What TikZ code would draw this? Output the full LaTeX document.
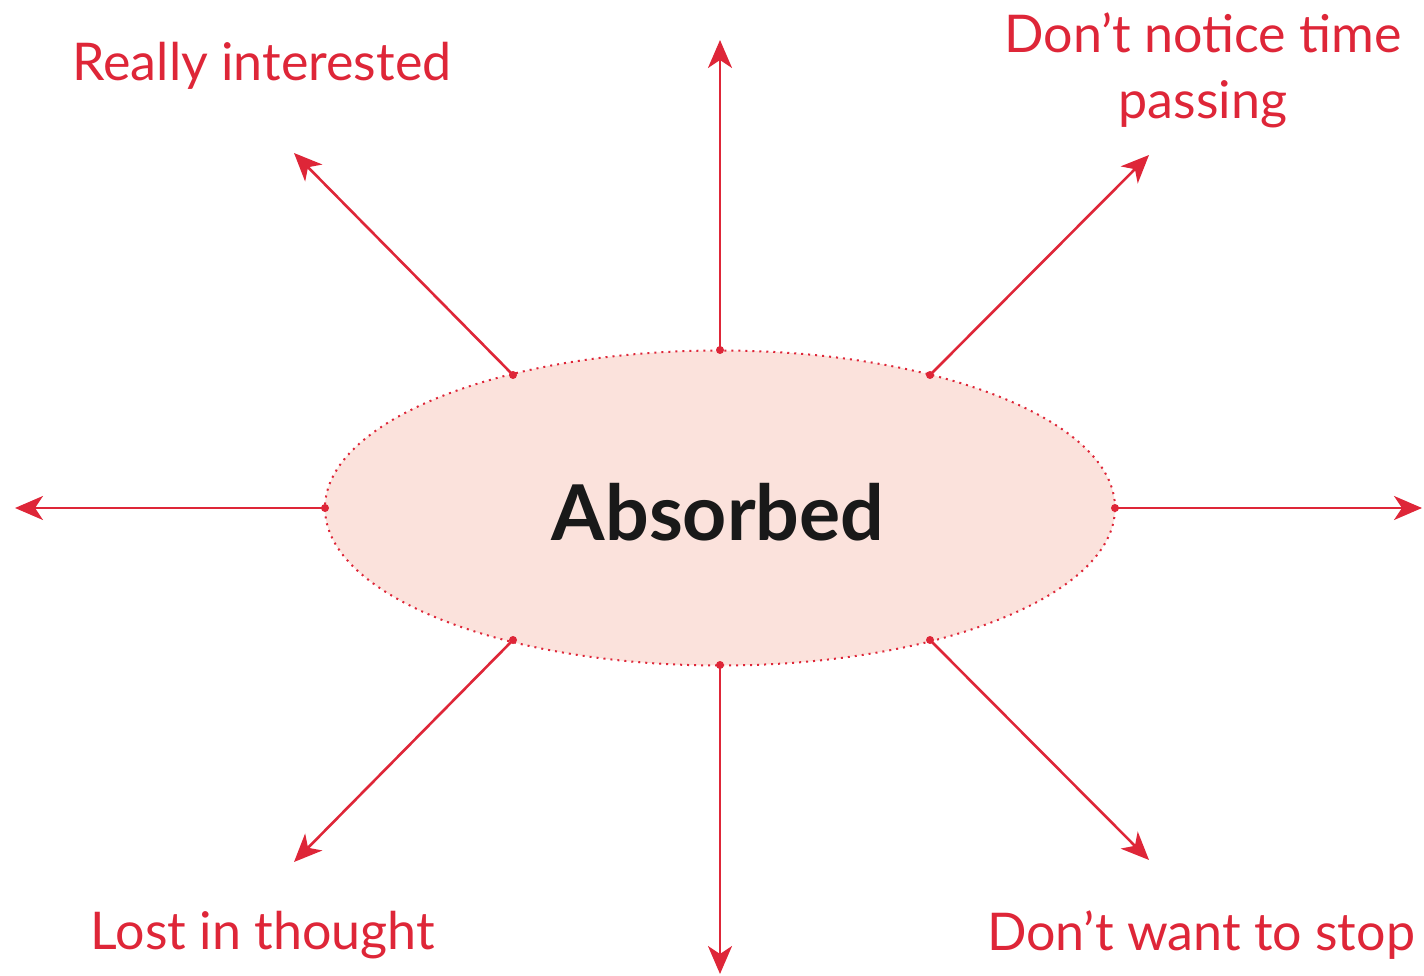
\documentclass[tikz,border=0pt]{standalone}
\usepackage{fontspec}
\setmainfont{Lato}
\usetikzlibrary{arrows.meta,shapes.geometric}
\definecolor{arrred}{RGB}{222,38,56}
\definecolor{ellfill}{RGB}{251,226,220}
\tikzset{
  ray/.style={draw=arrred,line width=2.6pt,-{Stealth[length=28pt,width=24pt,inset=8pt]}},
  lbl/.style={text=arrred,font=\fontsize{52}{66}\selectfont,align=center,inner sep=0pt},
  startdot/.style={circle,fill=arrred,inner sep=0pt,minimum size=8pt}
}
\begin{document}
\begin{tikzpicture}[x=1pt,y=-1pt]
\useasboundingbox (0,0) rectangle (1424,976);
\node[ellipse,draw=arrred,dash pattern=on 2pt off 5pt,line width=2pt,fill=ellfill,minimum width=790pt,minimum height=315pt,inner sep=0pt] (ell) at (720,508) {};
\node[font=\fontsize{77}{85}\selectfont\bfseries,text=black!90] (t) at (718,512) {Absorbed};
% start points
\coordinate (sN) at (720,350);
\coordinate (sS) at (720,665);
\coordinate (sW) at (325,508);
\coordinate (sE) at (1115,508);
\coordinate (sNW) at (513,375);
\coordinate (sNE) at (930,375);
\coordinate (sSW) at (513,640);
\coordinate (sSE) at (930,640);
% end points
\coordinate (eN) at (720,40);
\coordinate (eS) at (720,974);
\coordinate (eW) at (15,508);
\coordinate (eE) at (1422,508);
\coordinate (eNW) at (294,153);
\coordinate (eNE) at (1149,155);
\coordinate (eSW) at (294,862);
\coordinate (eSE) at (1149,860);
\foreach \d in {N,S,W,E,NW,NE,SW,SE}{
  \node[startdot] at (s\d) {};
  \draw[ray] (s\d) -- (e\d);
}
\node[lbl] (l1) at (262,66) {Really interested};
\node[lbl] (l2) at (1203,70) {Don’t notice time\\passing};
\node[lbl] (l3) at (263,935) {Lost in thought};
\node[lbl] (l4) at (1201,935) {Don’t want to stop};
\end{tikzpicture}
\end{document}
